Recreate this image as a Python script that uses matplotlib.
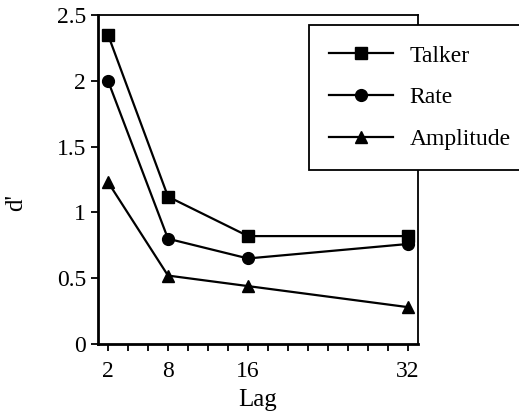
import matplotlib
matplotlib.use("Agg")
import matplotlib.pyplot as plt

# data
lags = [2, 8, 16, 32]
talker = [2.35, 1.12, 0.82, 0.82]
rate = [2.0, 0.80, 0.65, 0.76]
amplitude = [1.23, 0.52, 0.44, 0.28]

x_major = [2, 8, 16, 32]
x_minor = list(range(2, 33, 2))
y_ticks = [0, 0.5, 1, 1.5, 2, 2.5]
y_labels = ["0", "0.5", "1", "1.5", "2", "2.5"]

plt.rcParams["font.family"] = ["Liberation Serif", "DejaVu Serif"]

fig = plt.figure(figsize=(5.19, 4.16), dpi=100)
ax = fig.add_axes([98 / 519, 72 / 416, 320 / 519, 329 / 416])

ax.plot(lags, talker, color="black", lw=1.6, marker="s", ms=8, label="Talker")
ax.plot(lags, rate, color="black", lw=1.6, marker="o", ms=8.5, label="Rate")
ax.plot(lags, amplitude, color="black", lw=1.6, marker="^", ms=9, label="Amplitude")

ax.set_xlim(1, 33)
ax.set_ylim(0, 2.5)
ax.set_xticks(x_major)
ax.set_xticks(x_minor, minor=True)
ax.set_yticks(y_ticks)
ax.set_yticklabels(y_labels)
ax.tick_params(axis="both", which="major", direction="out", length=5, width=1.3,
               labelsize=17)
ax.tick_params(axis="x", which="major", pad=7)
ax.tick_params(axis="x", which="minor", direction="out", length=5, width=1.3)
for side in ax.spines.values():
    side.set_linewidth(1.3)
ax.spines["left"].set_linewidth(2)
ax.spines["bottom"].set_linewidth(2)

ax.set_xlabel("Lag", fontsize=18, labelpad=5)
ax.set_ylabel("d'", fontsize=18)
ax.yaxis.set_label_coords(-0.222, 0.43)

leg = ax.legend(loc="upper left", bbox_to_anchor=(309 / 519, 1 - 25 / 416),
                bbox_transform=fig.transFigure, fontsize=17, frameon=True,
                fancybox=False, edgecolor="black", framealpha=1,
                handlelength=2.7, handletextpad=0.7, labelspacing=0.86,
                borderpad=0.85, borderaxespad=0)
leg.get_frame().set_linewidth(1.3)

fig.savefig("out.png", dpi=100)
